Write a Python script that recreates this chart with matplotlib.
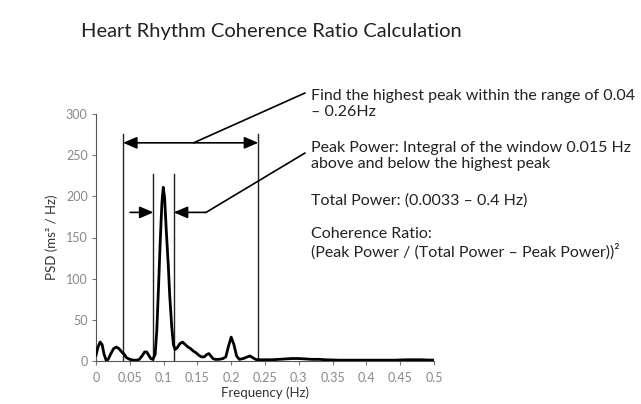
import matplotlib
matplotlib.use("Agg")
import matplotlib.pyplot as plt

plt.rcParams['font.family'] = ['Lato', 'DejaVu Sans']

# ---- data ----
freq = [0.000, 0.003, 0.006, 0.009, 0.012, 0.015, 0.018, 0.022, 0.026, 0.030,
        0.034, 0.038, 0.042, 0.045, 0.050, 0.055, 0.060, 0.064, 0.068, 0.072,
        0.075, 0.078, 0.081, 0.084, 0.0875, 0.090, 0.0925, 0.095, 0.0975, 0.0995,
        0.1015, 0.104, 0.107, 0.109, 0.112, 0.1145, 0.117, 0.120, 0.124, 0.128,
        0.132, 0.136, 0.140, 0.144, 0.148, 0.152, 0.156, 0.160, 0.164, 0.167,
        0.170, 0.173, 0.176, 0.182, 0.188, 0.192, 0.196, 0.200, 0.204, 0.208,
        0.212, 0.218, 0.224, 0.228, 0.232, 0.236, 0.240, 0.250, 0.260, 0.270,
        0.280, 0.290, 0.300, 0.310, 0.320, 0.330, 0.340, 0.360, 0.380, 0.400,
        0.420, 0.440, 0.460, 0.480, 0.500]
psd = [7, 17, 23, 20, 8, 1, 2, 9, 15, 17,
       15, 11, 8, 4, 2, 1, 1, 2, 6, 11,
       11, 7, 3, 2, 8, 38, 90, 145, 192, 211,
       198, 158, 115, 80, 42, 20, 14, 16, 21, 23,
       20, 17, 15, 12, 10, 7, 5, 5, 8, 9,
       6, 3, 2, 2, 3, 5, 18, 29, 20, 6,
       2, 3, 5, 6, 4, 2, 1.5, 1.5, 1.5, 2,
       2.5, 3, 3, 2.5, 2, 2, 1.5, 1, 1, 1,
       1, 1, 1.5, 1.5, 1]

x_ticks = [0, 0.05, 0.1, 0.15, 0.2, 0.25, 0.3, 0.35, 0.4, 0.45, 0.5]
x_tick_labels = ["0", "0.05", "0.1", "0.15", "0.2", "0.25", "0.3", "0.35", "0.4", "0.45", "0.5"]
y_ticks = [0, 50, 100, 150, 200, 250, 300]
y_tick_labels = ["0", "50", "100", "150", "200", "250", "300"]

search_range = [0.04, 0.24]      # outer window (as drawn)
search_top = 276
peak_window = [0.085, 0.115]     # inner window around peak
peak_top = 227
range_arrow_y = 265
peak_arrow_y = 180.5
peak_arrow_from = [0.0504, 0.1628]

title = "Heart Rhythm Coherence Ratio Calculation"
notes = [
    "Find the highest peak within the range of 0.04\n\u2013 0.26Hz",
    "Peak Power: Integral of the window 0.015 Hz\nabove and below the highest peak",
    "Total Power: (0.0033 \u2013 0.4 Hz)",
    "Coherence Ratio:\n(Peak Power / (Total Power \u2013 Peak Power))\u00b2",
]

# ---- figure ----
W, H = 641, 404
fig = plt.figure(figsize=(W / 100, H / 100), dpi=100)
fig.patch.set_facecolor('white')
ax = fig.add_axes([96 / W, 1 - 361 / H, (434 - 96) / W, (361 - 114) / H])

ax.plot(freq, psd, color='black', lw=2.0, solid_joinstyle='round', zorder=5)

ax.set_xlim(0, 0.5)
ax.set_ylim(0, 300)
ax.set_xticks(x_ticks)
ax.set_xticklabels(x_tick_labels)
ax.set_yticks(y_ticks)
ax.set_yticklabels(y_tick_labels)
for s in ['top', 'right']:
    ax.spines[s].set_visible(False)
for s in ['left', 'bottom']:
    ax.spines[s].set_color('#555555')
    ax.spines[s].set_linewidth(0.8)
ax.tick_params(axis='both', colors='#777777', labelcolor='#888888',
               labelsize=9, length=3, width=0.8)
ax.tick_params(axis='x', pad=5)
ax.tick_params(axis='y', pad=3)
ax.set_xlabel("Frequency (Hz)", fontsize=9.5, color='#333333', labelpad=2)
ax.set_ylabel("PSD (ms\u00b2 / Hz)", fontsize=9.5, color='#333333', labelpad=6)

# vertical window lines
for xv in search_range:
    ax.plot([xv, xv], [0, search_top], color='#222222', lw=1.0, zorder=3)
for xv in peak_window:
    ax.plot([xv, xv], [0, peak_top], color='#222222', lw=1.0, zorder=3)

ap = dict(color='black', lw=1.2, shrinkA=0, shrinkB=0, mutation_scale=12)
hs = '<|-|>,head_length=0.7,head_width=0.3'
hs1 = '-|>,head_length=0.7,head_width=0.3'
ax.annotate('', xy=(search_range[1], range_arrow_y), xytext=(search_range[0], range_arrow_y),
            arrowprops=dict(arrowstyle=hs, **ap))
ax.annotate('', xy=(peak_window[0], peak_arrow_y), xytext=(peak_arrow_from[0], peak_arrow_y),
            arrowprops=dict(arrowstyle=hs1, **ap))
ax.annotate('', xy=(peak_window[1], peak_arrow_y), xytext=(peak_arrow_from[1], peak_arrow_y),
            arrowprops=dict(arrowstyle=hs1, **ap))

# leader lines from arrows to text
mid = (search_range[0] + search_range[1]) / 2
ax.annotate('', xy=(305, H - 93), xycoords='figure pixels',
            xytext=(mid + 0.0044, range_arrow_y), textcoords='data',
            arrowprops=dict(arrowstyle='-', color='black', lw=1.2, shrinkA=0, shrinkB=0))
ax.annotate('', xy=(305, H - 153), xycoords='figure pixels',
            xytext=(peak_arrow_from[1], peak_arrow_y), textcoords='data',
            arrowprops=dict(arrowstyle='-', color='black', lw=1.2, shrinkA=0, shrinkB=0))

# title
fig.text(271 / W, 1 - 32 / H, title, ha='center', va='center', fontsize=14.5, color='#222222')

# notes
tx = 311 / W
note_y = [104, 156, 201, 243]
for t, yy in zip(notes, note_y):
    fig.text(tx, 1 - yy / H, t, ha='left', va='center', fontsize=11.5,
             color='#222222', linespacing=1.2)

fig.savefig('out.png', dpi=100, facecolor='white')
